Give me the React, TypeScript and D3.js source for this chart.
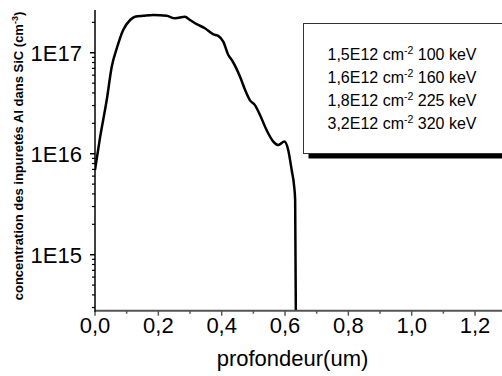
import React from "react";
import * as d3 from "d3";

const depth: number[] = [
  0.0, 0.016, 0.037, 0.053, 0.069, 0.089, 0.111, 0.126, 0.153, 0.184, 0.226,
  0.253, 0.284, 0.3, 0.321, 0.347, 0.374, 0.389, 0.405, 0.421, 0.432, 0.458,
  0.474, 0.489, 0.505, 0.521, 0.542, 0.563, 0.579, 0.598, 0.61, 0.621, 0.629,
  0.632, 0.635,
];
const concentration: number[] = [
  6.9e15, 1.45e16, 3.4e16, 7.3e16, 1.11e17, 1.68e17, 2.11e17, 2.27e17,
  2.32e17, 2.36e17, 2.32e17, 2.19e17, 2.27e17, 2.11e17, 1.92e17, 1.75e17,
  1.52e17, 1.47e17, 1.29e17, 9.5e16, 8.47e16, 5.78e16, 4.28e16, 3.4e16,
  3.03e16, 2.42e16, 1.71e16, 1.32e16, 1.22e16, 1.32e16, 1.09e16, 6.9e15,
  4.71e15, 3.48e15, 1e14,
];
const xMajorTicks: number[] = [0, 0.2, 0.4, 0.6, 0.8, 1.0, 1.2];
const xMinorTicks: number[] = [0.1, 0.3, 0.5, 0.7, 0.9, 1.1, 1.3];
const yMajorTicks: number[] = [1e15, 1e16, 1e17];
const yTickLabels: string[] = ["1E15", "1E16", "1E17"];
const legendDoses: string[] = ["1,5E12", "1,6E12", "1,8E12", "3,2E12"];
const legendEnergies: string[] = ["100", "160", "225", "320"];

const W = 502;
const H = 376;
const left = 95;
const top = 10;
const bottom = 310.7;

export default function App() {
  const x = d3.scaleLinear().domain([0, 1.3]).range([left, left + 1.3 * 316.7]);
  const y = d3.scaleLog().domain([2.79e14, 2.65e17]).range([bottom, top]);

  const yMinor: number[] = [];
  for (let e = 14; e <= 17; e++) {
    for (let m = 2; m <= 9; m++) {
      const v = m * Math.pow(10, e);
      if (v >= 2.79e14 && v <= 2.65e17) yMinor.push(v);
    }
  }

  const pts: [number, number][] = depth.map((d, i) => [d, concentration[i]]);
  const line = d3
    .line<[number, number]>()
    .x((d) => x(d[0]))
    .y((d) => y(d[1]))
    .curve(d3.curveMonotoneX);

  const font = "'Liberation Sans', Arial, sans-serif";
  const fmt = (v: number) => d3.format(".1f")(v).replace(".", ",");

  const legX = 303.5;
  const legY = 23.5;
  const legH = 130;
  const legW = 260;

  return (
    <svg
      width={W}
      height={H}
      style={{ position: "absolute", left: 0, top: 0, background: "#fff" }}
      fontFamily={font}
    >
      <defs>
        <clipPath id="plotclip">
          <rect x={left} y={top} width={W} height={bottom - top} />
        </clipPath>
      </defs>
      <rect x={0} y={0} width={W} height={H} fill="#fff" />

      {/* legend box with shadow */}
      <rect x={legX + 5} y={legY + 5} width={legW} height={legH} fill="#000" />
      <rect
        x={legX}
        y={legY}
        width={legW}
        height={legH}
        fill="#fff"
        stroke="#333"
        strokeWidth={1}
      />
      {legendDoses.map((d, i) => (
        <text key={i} x={327.5} y={60 + i * 23} fontSize={16} fill="#000">
          {d} cm
          <tspan dy={-6} fontSize={10.5}>
            -2
          </tspan>
          <tspan dy={6}> {legendEnergies[i]} keV</tspan>
        </text>
      ))}

      {/* curve */}
      <path
        d={line(pts) || ""}
        fill="none"
        stroke="#000"
        strokeWidth={2.5}
        clipPath="url(#plotclip)"
        strokeLinejoin="round"
      />

      {/* x axis */}
      <line x1={left} x2={W} y1={bottom} y2={bottom} stroke="#555" strokeWidth={2} />
      {xMajorTicks.map((t) => (
        <g key={"xm" + t}>
          <line x1={x(t)} x2={x(t)} y1={bottom} y2={bottom + 5} stroke="#555" strokeWidth={1.5} />
          <text x={x(t)} y={333} fontSize={22} textAnchor="middle" fill="#000">
            {fmt(t)}
          </text>
        </g>
      ))}
      {xMinorTicks.map((t) => (
        <line key={"xn" + t} x1={x(t)} x2={x(t)} y1={bottom} y2={bottom + 3} stroke="#555" strokeWidth={1.5} />
      ))}
      <text x={292.5} y={366} fontSize={22} textAnchor="middle" fill="#000">
        profondeur(um)
      </text>

      {/* y axis */}
      <line x1={left} x2={left} y1={top} y2={bottom + 1} stroke="#000" strokeWidth={1.5} />
      {yMajorTicks.map((t, i) => (
        <g key={"ym" + t}>
          <line x1={left - 5} x2={left} y1={y(t)} y2={y(t)} stroke="#000" strokeWidth={1.5} />
          <text x={82} y={y(t) + 8} fontSize={22} textAnchor="end" fill="#000">
            {yTickLabels[i]}
          </text>
        </g>
      ))}
      {yMinor.map((t) => (
        <line key={"yn" + t} x1={left - 3} x2={left} y1={y(t)} y2={y(t)} stroke="#000" strokeWidth={1.2} />
      ))}
      <text
        transform="translate(23,156) rotate(-90)"
        fontSize={13}
        fontWeight="bold"
        textAnchor="middle"
        fill="#000"
      >
        concentration des inpuretés Al dans SiC (cm
        <tspan dy={-5} fontSize={9}>
          -3
        </tspan>
        <tspan dy={5}>)</tspan>
      </text>
    </svg>
  );
}
